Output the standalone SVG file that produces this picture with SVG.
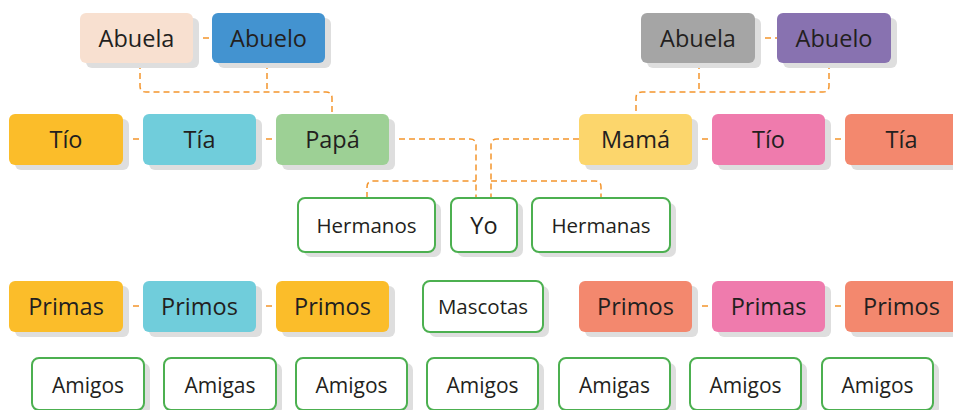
<svg xmlns="http://www.w3.org/2000/svg" width="953" height="410" viewBox="0 0 953 410">
<style>
.sh{fill:#dedede}
.lbl{font-family:"Open Sans","Noto Sans",sans-serif;font-size:23.5px;fill:#231f20;text-anchor:middle}
.sm{font-family:"Open Sans","Noto Sans",sans-serif;font-size:20.5px;fill:#231f20;text-anchor:middle}
.wb{fill:#ffffff;stroke:#4cb050;stroke-width:2}
.cn{fill:none;stroke:#f4952c;stroke-width:1.5;stroke-dasharray:6 4}
</style>
<rect width="953" height="410" fill="#ffffff"/>
<g id="connectors">
<path class="cn" d="M193,38 H212"/>
<path class="cn" d="M755,38 H777"/>
<path class="cn" d="M140,63 V86 Q140,92 146,92 H326 Q332,92 332,98 V114"/>
<path class="cn" d="M267,63 V92"/>
<path class="cn" d="M699,63 V92"/>
<path class="cn" d="M829,63 V86 Q829,92 823,92 H642 Q636,92 636,98 V114"/>
<path class="cn" d="M123,139 H143"/>
<path class="cn" d="M256,139 H276"/>
<path class="cn" d="M692,139 H712"/>
<path class="cn" d="M825,139 H845"/>
<path class="cn" d="M389,139 H470 Q476,139 476,145 V198"/>
<path class="cn" d="M579,139 H497 Q491,139 491,145 V198"/>
<path class="cn" d="M367,198 V187 Q367,181 373,181 H476"/>
<path class="cn" d="M491,181 H595 Q601,181 601,187 V198"/>
<path class="cn" d="M123,306 H143"/>
<path class="cn" d="M256,306 H276"/>
<path class="cn" d="M692,306 H712"/>
<path class="cn" d="M825,306 H845"/>
</g>
<g id="abuela-l"><rect class="sh" x="86" y="18" width="113" height="50" rx="6"/><rect x="80" y="13" width="113" height="50" rx="6" fill="#f8e0d0"/><text class="lbl" x="136.5" y="47">Abuela</text></g>
<g id="abuelo-l"><rect class="sh" x="218" y="18" width="113" height="50" rx="6"/><rect x="212" y="13" width="113" height="50" rx="6" fill="#4393d0"/><text class="lbl" x="268.5" y="47">Abuelo</text></g>
<g id="abuela-r"><rect class="sh" x="647" y="18" width="114" height="50" rx="6"/><rect x="641" y="13" width="114" height="50" rx="6" fill="#a5a5a5"/><text class="lbl" x="698" y="47">Abuela</text></g>
<g id="abuelo-r"><rect class="sh" x="783" y="18" width="114" height="50" rx="6"/><rect x="777" y="13" width="114" height="50" rx="6" fill="#8872b0"/><text class="lbl" x="834" y="47">Abuelo</text></g>

<g id="tio-l"><rect class="sh" x="15" y="119" width="114" height="51" rx="6"/><rect x="9" y="114" width="114" height="51" rx="6" fill="#fbbd2a"/><text class="lbl" x="66" y="148">Tío</text></g>
<g id="tia-l"><rect class="sh" x="149" y="119" width="113" height="51" rx="6"/><rect x="143" y="114" width="113" height="51" rx="6" fill="#70cddb"/><text class="lbl" x="199.5" y="148">Tía</text></g>
<g id="papa"><rect class="sh" x="282" y="119" width="113" height="51" rx="6"/><rect x="276" y="114" width="113" height="51" rx="6" fill="#9dd095"/><text class="lbl" x="332.5" y="148">Papá</text></g>
<g id="mama"><rect class="sh" x="585" y="119" width="113" height="51" rx="6"/><rect x="579" y="114" width="113" height="51" rx="6" fill="#fcd66c"/><text class="lbl" x="635.5" y="148">Mamá</text></g>
<g id="tio-r"><rect class="sh" x="718" y="119" width="113" height="51" rx="6"/><rect x="712" y="114" width="113" height="51" rx="6" fill="#ef7bad"/><text class="lbl" x="768.5" y="148">Tío</text></g>
<g id="tia-r"><rect class="sh" x="851" y="119" width="113" height="51" rx="6"/><rect x="845" y="114" width="113" height="51" rx="6" fill="#f3886e"/><text class="lbl" x="901.5" y="148">Tía</text></g>

<g id="hermanos"><rect class="sh" x="304" y="203" width="137" height="54" rx="7"/><rect class="wb" x="298" y="198" width="137" height="54" rx="7"/><text class="sm" x="366.5" y="233">Hermanos</text></g>
<g id="yo"><rect class="sh" x="457" y="203" width="66" height="54" rx="7"/><rect class="wb" x="451" y="198" width="66" height="54" rx="7"/><text class="lbl" x="484" y="234">Yo</text></g>
<g id="hermanas"><rect class="sh" x="538" y="203" width="138" height="54" rx="7"/><rect class="wb" x="532" y="198" width="138" height="54" rx="7"/><text class="sm" x="601" y="233">Hermanas</text></g>

<g id="primas-l"><rect class="sh" x="15" y="286" width="114" height="51" rx="6"/><rect x="9" y="281" width="114" height="51" rx="6" fill="#fbbd2a"/><text class="lbl" x="66" y="315">Primas</text></g>
<g id="primos-l1"><rect class="sh" x="149" y="286" width="113" height="51" rx="6"/><rect x="143" y="281" width="113" height="51" rx="6" fill="#70cddb"/><text class="lbl" x="199.5" y="315">Primos</text></g>
<g id="primos-l2"><rect class="sh" x="282" y="286" width="113" height="51" rx="6"/><rect x="276" y="281" width="113" height="51" rx="6" fill="#fbbd2a"/><text class="lbl" x="332.5" y="315">Primos</text></g>
<g id="mascotas"><rect class="sh" x="429" y="286" width="120" height="51" rx="7"/><rect class="wb" x="423" y="281" width="120" height="51" rx="7"/><text class="sm" x="483" y="314">Mascotas</text></g>
<g id="primos-r1"><rect class="sh" x="585" y="286" width="113" height="51" rx="6"/><rect x="579" y="281" width="113" height="51" rx="6" fill="#f3886e"/><text class="lbl" x="635.5" y="315">Primos</text></g>
<g id="primas-r"><rect class="sh" x="718" y="286" width="113" height="51" rx="6"/><rect x="712" y="281" width="113" height="51" rx="6" fill="#ef7bad"/><text class="lbl" x="768.5" y="315">Primas</text></g>
<g id="primos-r2"><rect class="sh" x="851" y="286" width="113" height="51" rx="6"/><rect x="845" y="281" width="113" height="51" rx="6" fill="#f3886e"/><text class="lbl" x="901.5" y="315">Primos</text></g>

<g id="amigos1"><rect class="sh" x="38" y="363" width="112" height="52" rx="7"/><rect class="wb" x="32" y="358" width="112" height="52" rx="7"/><text class="sm" x="88" y="393" style="font-size:21px">Amigos</text></g>
<g id="amigas1"><rect class="sh" x="170" y="363" width="112" height="52" rx="7"/><rect class="wb" x="164" y="358" width="112" height="52" rx="7"/><text class="sm" x="220" y="393" style="font-size:21px">Amigas</text></g>
<g id="amigos2"><rect class="sh" x="302" y="363" width="111" height="52" rx="7"/><rect class="wb" x="296" y="358" width="111" height="52" rx="7"/><text class="sm" x="351.5" y="393" style="font-size:21px">Amigos</text></g>
<g id="amigos3"><rect class="sh" x="433" y="363" width="111" height="52" rx="7"/><rect class="wb" x="427" y="358" width="111" height="52" rx="7"/><text class="sm" x="482.5" y="393" style="font-size:21px">Amigos</text></g>
<g id="amigas2"><rect class="sh" x="565" y="363" width="111" height="52" rx="7"/><rect class="wb" x="559" y="358" width="111" height="52" rx="7"/><text class="sm" x="614.5" y="393" style="font-size:21px">Amigas</text></g>
<g id="amigos4"><rect class="sh" x="696" y="363" width="111" height="52" rx="7"/><rect class="wb" x="690" y="358" width="111" height="52" rx="7"/><text class="sm" x="745.5" y="393" style="font-size:21px">Amigos</text></g>
<g id="amigos5"><rect class="sh" x="828" y="363" width="111" height="52" rx="7"/><rect class="wb" x="822" y="358" width="111" height="52" rx="7"/><text class="sm" x="877.5" y="393" style="font-size:21px">Amigos</text></g>
</svg>
